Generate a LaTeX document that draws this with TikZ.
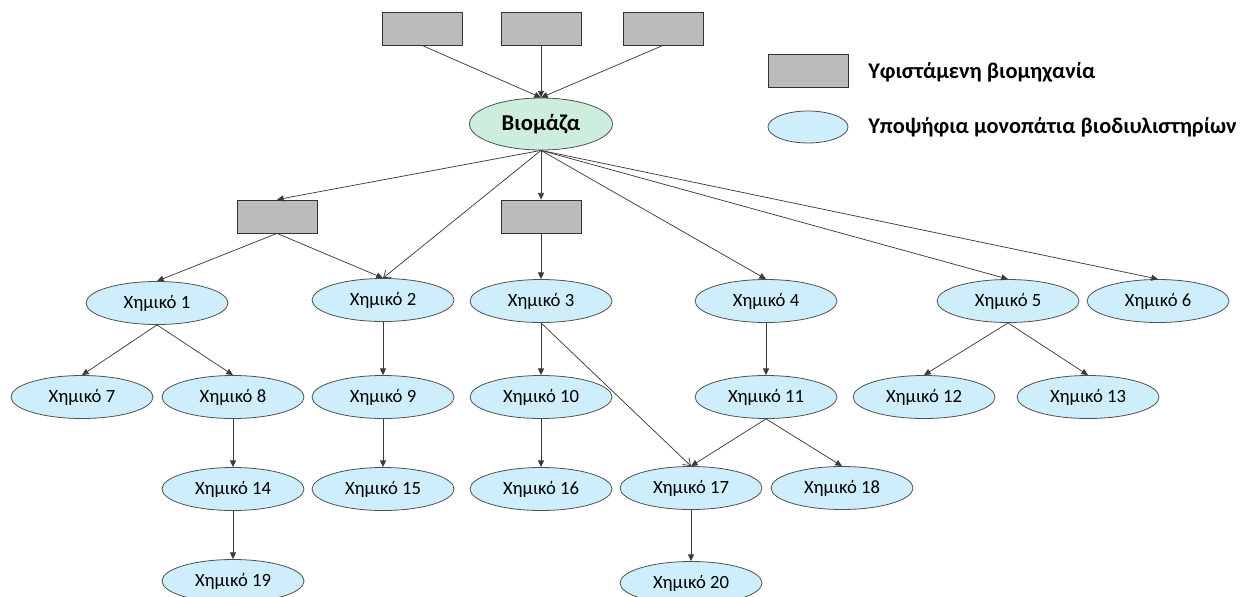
\documentclass[tikz,border=0pt]{standalone}
\usepackage{fontspec}
\setmainfont{Carlito}
\usetikzlibrary{shapes.geometric,arrows.meta}
\definecolor{chemfill}{HTML}{CDEEFA}
\definecolor{biofill}{HTML}{CDEEDC}
\definecolor{indfill}{HTML}{BBBBBB}
\definecolor{edgecol}{HTML}{3A3A3A}
\definecolor{bordercol}{HTML}{505050}
\tikzset{
  chem/.style={ellipse, draw=bordercol, line width=0.6pt, fill=chemfill,
    minimum width=106.5pt, minimum height=32.25pt, inner sep=0pt,
    font=\fontsize{14}{16}\selectfont},
  bio/.style={ellipse, draw=bordercol, line width=0.6pt, fill=biofill,
    minimum width=107.25pt, minimum height=39pt, inner sep=0pt,
    font=\fontsize{17}{20}\selectfont\bfseries},
  ind/.style={rectangle, draw=black!80, line width=0.6pt, fill=indfill,
    minimum width=60pt, minimum height=24.75pt, inner sep=0pt},
  legtext/.style={anchor=west, inner sep=0pt, font=\fontsize{16.8}{19}\selectfont\bfseries},
  link/.style={draw=edgecol, line width=0.55pt, -{Triangle[length=5pt,width=4.5pt]}},
  openlink/.style={draw=edgecol, line width=0.55pt, -{Straight Barb[length=5pt,width=7pt]}}
}
\begin{document}
\begin{tikzpicture}[x=0.75pt, y=-0.75pt]
\useasboundingbox (0,0) rectangle (1248,596);
\clip (0,0) rectangle (1248,596);

% existing industries feeding the biomass
\node[ind] (t1) at (422,28.5) {};
\node[ind] (t2) at (541,28.5) {};
\node[ind] (t3) at (663,28.5) {};
\node[bio] (bio) at (541,124) {Βιομάζα};

% legend
\node[ind] (legind) at (808,70.5) {};
\node[legtext] (legindtext) at (868,72) {Υφιστάμενη βιομηχανία};
\node[chem, minimum width=60pt, minimum height=24pt] (legchem) at (808,127) {};
\node[legtext] (legchemtext) at (868,127) {Υποψήφια μονοπάτια βιοδιυλιστηρίων};

% intermediate industries
\node[ind] (m1) at (277,216.5) {};
\node[ind] (m2) at (541,216.5) {};

% first level chemicals
\node[chem] (c1) at (157,303) {Χημικό 1};
\node[chem] (c2) at (383,300) {Χημικό 2};
\node[chem] (c3) at (541,301) {Χημικό 3};
\node[chem] (c4) at (766,301) {Χημικό 4};
\node[chem] (c5) at (1008,301) {Χημικό 5};
\node[chem] (c6) at (1158,301) {Χημικό 6};

% second level
\node[chem] (c7) at (82,397) {Χημικό 7};
\node[chem] (c8) at (233,397) {Χημικό 8};
\node[chem] (c9) at (383,397) {Χημικό 9};
\node[chem] (c10) at (541,397) {Χημικό 10};
\node[chem] (c11) at (766,397) {Χημικό 11};
\node[chem] (c12) at (924,397) {Χημικό 12};
\node[chem] (c13) at (1088,397) {Χημικό 13};

% third level
\node[chem] (c14) at (233,489) {Χημικό 14};
\node[chem] (c15) at (383,489) {Χημικό 15};
\node[chem] (c16) at (541,489) {Χημικό 16};
\node[chem] (c17) at (691,488) {Χημικό 17};
\node[chem] (c18) at (842,488) {Χημικό 18};

% fourth level
\node[chem] (c19) at (233,581) {Χημικό 19};
\node[chem] (c20) at (691,583) {Χημικό 20};

% connectors
\draw[link] (t1.south) -- (bio.north);
\draw[link] (t2.south) -- (bio.north);
\draw[link] (t3.south) -- (bio.north);

\draw[link] (bio.south) -- (m1.north);
\draw[openlink] (bio.south) -- (c2.north);
\draw[link] (bio.south) -- (m2.north);
\draw[link] (bio.south) -- (c4.north);
\draw[link] (bio.south) -- (c5.north);
\draw[link] (bio.south) -- (c6.north);

\draw[link] (m1.south) -- (c1.north);
\draw[link] (m1.south) -- (c2.north);
\draw[link] (m2.south) -- (c3.north);

\draw[link] (c1.south) -- (c7.north);
\draw[link] (c1.south) -- (c8.north);
\draw[link] (c2.south) -- (c9.north);
\draw[link] (c3.south) -- (c10.north);
\draw[openlink] (c3.south) -- (c17.north);
\draw[link] (c4.south) -- (c11.north);
\draw[link] (c5.south) -- (c12.north);
\draw[link] (c5.south) -- (c13.north);

\draw[link] (c8.south) -- (c14.north);
\draw[link] (c9.south) -- (c15.north);
\draw[link] (c10.south) -- (c16.north);
\draw[link] (c11.south) -- (c17.north);
\draw[link] (c11.south) -- (c18.north);

\draw[link] (c14.south) -- (c19.north);
\draw[link] (c17.south) -- (c20.north);
\end{tikzpicture}
\end{document}
